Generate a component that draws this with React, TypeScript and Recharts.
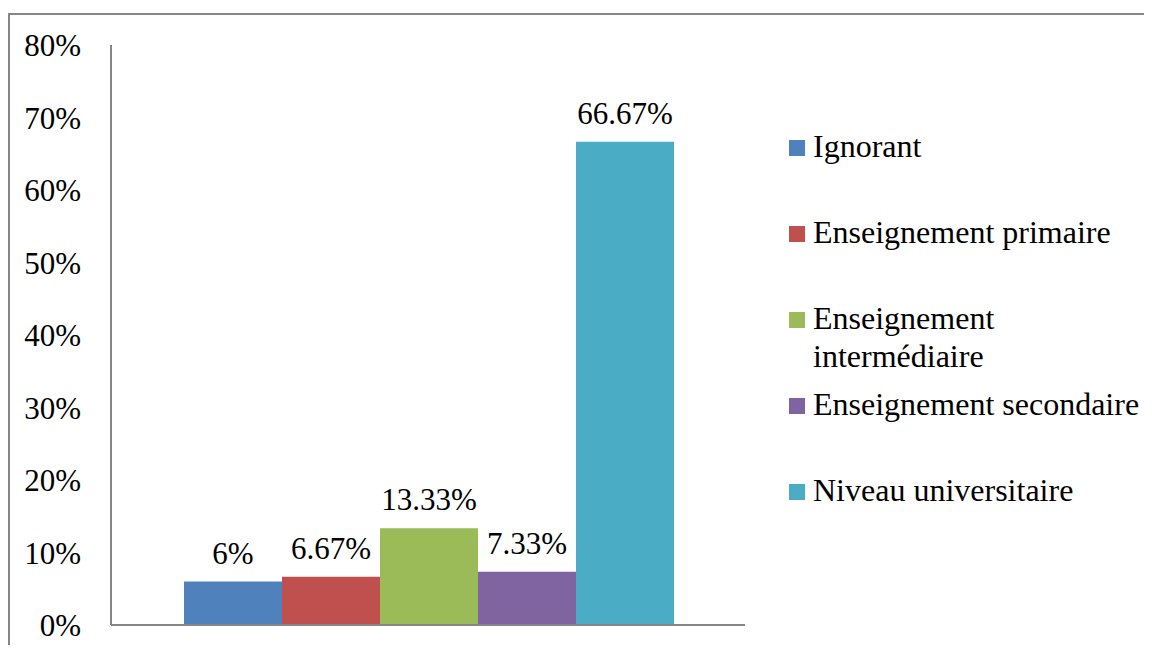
import { BarChart, Bar, XAxis, YAxis, LabelList } from 'recharts';

// Niveau d'instruction des répondants (%)
const levels = [
  'Ignorant',
  'Enseignement primaire',
  'Enseignement intermédiaire',
  'Enseignement secondaire',
  'Niveau universitaire',
];
const shares = [6, 6.67, 13.33, 7.33, 66.67];
const colors = ['#4F81BD', '#C0504D', '#9BBB59', '#8064A2', '#4BACC6'];
const yTicks = [0, 10, 20, 30, 40, 50, 60, 70, 80];

const FONT = 'Liberation Serif';
const AXIS = '#868686';

const chartData = [
  levels.reduce<Record<string, string | number>>(
    (row, _, i) => {
      row[`s${i}`] = shares[i];
      return row;
    },
    { name: '' }
  ),
];

const App = () => {
  return (
    <div style={{ position: 'relative', width: 1144, height: 637, fontFamily: FONT, overflow: 'hidden' }}>
      {/* chart frame, only top and left edges are visible */}
      <div
        style={{
          position: 'absolute',
          top: 5,
          left: 0,
          width: 1160,
          height: 640,
          borderTop: `2px solid ${AXIS}`,
          borderLeft: `2px solid ${AXIS}`,
          boxSizing: 'border-box',
        }}
      />
      <div style={{ position: 'absolute', top: 0, left: 0 }}>
        <BarChart
          width={1144}
          height={637}
          data={chartData}
          margin={{ top: 37, right: 407, left: 0, bottom: 0 }}
          barGap={0}
          barCategoryGap={73}
        >
          <XAxis
            dataKey="name"
            tick={false}
            tickLine={false}
            height={20}
            axisLine={{ stroke: AXIS, strokeWidth: 2 }}
          />
          <YAxis
            domain={[0, 80]}
            ticks={yTicks}
            width={103}
            tickLine={false}
            tickSize={0}
            tickMargin={30}
            tickFormatter={(v) => `${v}%`}
            tick={{ fill: '#000', fontSize: 31, fontFamily: FONT }}
            axisLine={{ stroke: AXIS, strokeWidth: 2 }}
          />
          {levels.map((lvl, i) => (
            <Bar key={lvl} dataKey={`s${i}`} name={lvl} fill={colors[i]} isAnimationActive={false}>
              <LabelList
                dataKey={`s${i}`}
                position="top"
                offset={18}
                formatter={(v: number) => `${v}%`}
                fill="#000"
                fontSize={31}
                fontFamily={FONT}
              />
            </Bar>
          ))}
        </BarChart>
      </div>
      {/* legend */}
      {levels.map((lvl, i) => (
        <div
          key={lvl}
          style={{
            position: 'absolute',
            left: 781,
            top: 120 + i * 86,
            display: 'flex',
            alignItems: 'flex-start',
            fontSize: 32,
            lineHeight: 1.18,
            color: '#000',
          }}
        >
          <span
            style={{
              display: 'inline-block',
              width: 16,
              height: 16,
              marginTop: 12,
              marginRight: 8,
              background: colors[i],
              flexShrink: 0,
            }}
          />
          <span style={{ width: 340 }}>{lvl}</span>
        </div>
      ))}
    </div>
  );
};

export default App;
